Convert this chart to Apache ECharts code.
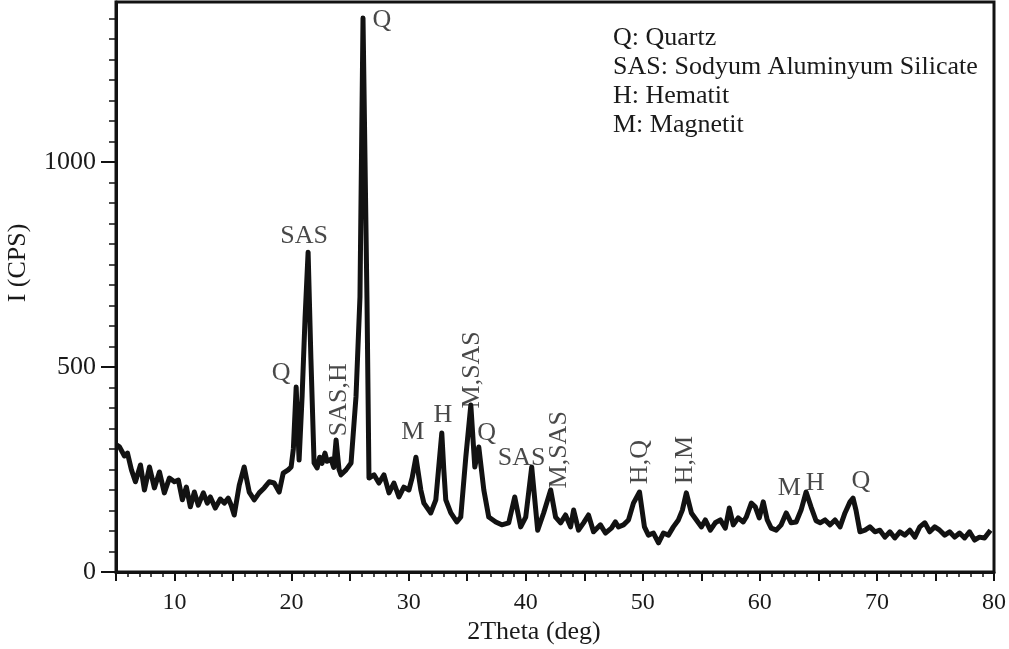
<!DOCTYPE html>
<html><head><meta charset="utf-8">
<script src="https://cdn.jsdelivr.net/npm/echarts@6/dist/echarts.min.js"></script>
<style>html,body{margin:0;padding:0;background:#fff}#c{width:1009px;height:649px}</style>
</head><body><div id="c"></div>
<script>
// ---- data ----
const twoTheta = [5.04,5.3,5.72,5.98,6.32,6.66,7.09,7.43,7.86,8.28,8.71,9.13,9.56,9.99,10.33,10.67,11.01,11.35,11.69,12.03,12.46,12.80,13.06,13.48,13.91,14.25,14.59,14.84,15.10,15.53,15.95,16.38,16.81,17.23,17.66,18.09,18.51,18.94,19.28,19.71,19.96,
  20.15,20.39,20.64,20.9,21.15,21.41,21.65,21.92,22.18,22.4,22.6,22.85,23.03,23.37,23.6,23.80,24.05,24.22,24.65,25.08,25.5,25.84,26.1,26.44,26.61,27.04,27.46,27.89,28.32,28.74,29.17,29.59,30.02,30.3,30.62,31.04,
  31.30,31.89,32.32,32.55,32.83,33.0,33.17,33.60,34.11,34.45,34.88,35.31,35.65,35.99,36.42,36.84,37.44,37.95,38.55,39.06,39.57,40.00,40.51,41.02,41.53,42.13,42.55,42.98,43.40,43.83,44.09,44.51,44.94,45.36,45.79,46.38,46.81,47.32,47.66,47.92,
  48.35,48.78,49.20,49.72,50.14,50.48,50.91,51.34,51.76,52.19,52.61,53.04,53.38,53.72,54.15,54.58,55.00,55.34,55.77,56.19,56.62,57.05,57.39,57.73,58.15,58.58,58.84,59.27,59.61,59.95,60.29,60.63,60.97,61.40,61.82,62.25,62.67,63.10,63.52,63.95,64.37,64.80,
  65.15,65.57,66.00,66.42,66.85,67.27,67.70,67.96,68.21,68.55,68.98,69.40,69.83,70.25,70.68,71.11,71.53,71.96,72.38,72.81,73.24,73.66,74.09,74.51,74.94,75.36,75.79,76.21,76.64,77.06,77.49,77.91,78.34,78.76,79.19,79.70];
const intensity = [310,305,283,290,249,220,261,200,256,205,244,193,229,220,224,176,207,159,195,163,193,168,183,156,178,168,180,163,139,212,256,195,176,193,205,220,217,195,241,249,256,
  300,451,273,430,620,780,520,266,254,280,265,290,270,275,255,322,250,237,249,266,427,671,1351,663,229,237,217,237,193,217,183,207,200,230,280,200,
  168,144,176,250,339,250,176,144,122,134,280,407,256,305,200,134,122,115,120,183,110,134,256,102,144,200,134,120,139,110,151,102,120,139,98,115,95,107,122,110,
  115,127,168,195,110,90,95,71,95,90,110,127,151,193,144,127,110,127,102,120,127,107,156,115,132,122,134,168,159,132,171,127,107,102,115,144,120,122,151,195,159,125,
  120,127,115,127,110,144,171,180,151,98,102,110,98,102,85,98,83,98,90,102,85,110,120,98,110,102,90,98,85,95,83,98,78,85,83,102];
const xTickLabels = [10,20,30,40,50,60,70,80];
const xMajorTicks = [5,10,15,20,25,30,35,40,45,50,55,60,65,70,75,80];
const yTickLabels = [0,500,1000];
const legendLines = ['Q: Quartz','SAS: Sodyum Aluminyum Silicate','H: Hematit','M: Magnetit'];
const peakText = ['Q','SAS','Q','SAS,H','M','H','M,SAS','Q','SAS','M,SAS','H,Q','H,M','M','H','Q'];
const peakX    = [27.72,21.07,19.11,24.05,30.36,32.92,35.39,36.67,39.65,42.89,49.80,53.64,62.51,64.72,68.64];
const peakY    = [1346,820,485,420,341,383,493,339,278,298,268,273,205,217,222];
const peakVertical = [false,false,false,true,false,false,true,false,false,true,true,true,false,false,false];

// ---- chart ----
const FONT = '"Liberation Serif","Times New Roman",serif';
const INK = '#121212';
const TXT = '#1a1a1a';
const chart = echarts.init(document.getElementById('c'), null, {renderer:'canvas'});
const lineData = twoTheta.map((x,i)=>[x,intensity[i]]);
const annData = peakText.map((t,i)=>({
  value:[peakX[i],peakY[i]], name:t,
  label:{rotate: peakVertical[i]?90:0}
}));
chart.setOption({
  animation:false,
  backgroundColor:'#fff',
  grid:{left:116,right:13,top:2,bottom:77,show:true,borderColor:INK,borderWidth:3,backgroundColor:'transparent'},
  xAxis:{type:'value',min:5,max:80,interval:5,
    axisLine:{show:true,lineStyle:{color:INK,width:3}},
    axisTick:{show:true,inside:false,length:9,lineStyle:{color:INK,width:2},customValues:xMajorTicks},
    minorTick:{show:true,splitNumber:5,length:5,lineStyle:{color:INK,width:1.5}},
    axisLabel:{customValues:xTickLabels,formatter:v=>String(v),fontFamily:FONT,fontSize:24,color:TXT,margin:19},
    splitLine:{show:false},minorSplitLine:{show:false}},
  yAxis:{type:'value',min:0,max:1390,interval:500,
    axisLine:{show:true,lineStyle:{color:INK,width:3}},
    axisTick:{show:true,inside:false,length:15,lineStyle:{color:INK,width:2},customValues:yTickLabels},
    minorTick:{show:true,splitNumber:10,length:7,lineStyle:{color:INK,width:1.5}},
    axisLabel:{customValues:yTickLabels,formatter:v=>String(v),fontFamily:FONT,fontSize:26,color:TXT,margin:20},
    splitLine:{show:false},minorSplitLine:{show:false}},
  series:[
    {type:'line',data:lineData,showSymbol:false,symbol:'none',
     lineStyle:{color:INK,width:5,join:'round'},z:3},
    {type:'scatter',data:annData,symbolSize:1,itemStyle:{color:'rgba(0,0,0,0)'},z:4,
     label:{show:true,position:'inside',formatter:p=>p.name,fontFamily:FONT,fontSize:26,color:TXT}}
  ],
  graphic:[
    ...legendLines.map((t,i)=>({type:'text',x:613,y:38+i*29,
      style:{text:t,fontFamily:FONT,fontSize:26,fill:TXT,verticalAlign:'middle'}})),
    {type:'text',x:18,y:263,rotation:Math.PI/2,
      style:{text:'I (CPS)',fontFamily:FONT,fontSize:26,fill:TXT,align:'center',verticalAlign:'middle'}},
    {type:'text',x:534,y:632,
      style:{text:'2Theta (deg)',fontFamily:FONT,fontSize:26,fill:TXT,align:'center',verticalAlign:'middle'}}
  ]
});
</script></body></html>
